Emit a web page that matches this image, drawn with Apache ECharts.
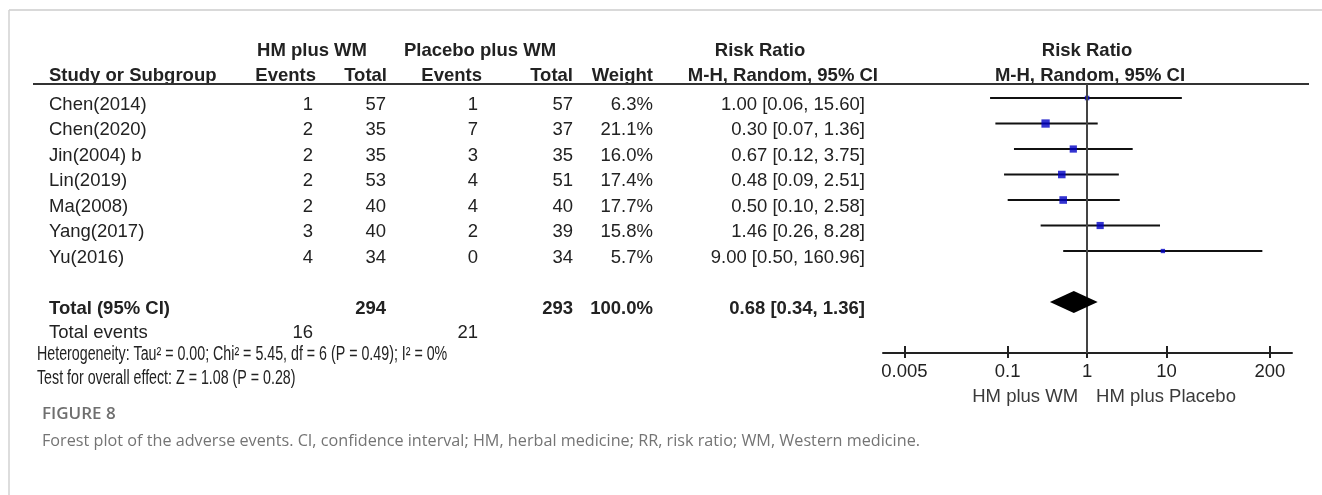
<!DOCTYPE html>
<html>
<head>
<meta charset="utf-8">
<script src="https://cdn.jsdelivr.net/npm/echarts@6/dist/echarts.min.js"></script>
<style>
  html, body { margin: 0; padding: 0; background: #fff; }
  #chart { width: 1322px; height: 495px; }
</style>
</head>
<body>
<div id="chart"></div>
<script>
// ---- Study data (adverse events, RR with 95% CI, random effects) ----
const studies   = ['Chen(2014)', 'Chen(2020)', 'Jin(2004) b', 'Lin(2019)', 'Ma(2008)', 'Yang(2017)', 'Yu(2016)'];
const hmEvents  = [1, 2, 2, 2, 2, 3, 4];
const hmTotal   = [57, 35, 35, 53, 40, 40, 34];
const plEvents  = [1, 7, 3, 4, 4, 2, 0];
const plTotal   = [57, 37, 35, 51, 40, 39, 34];
const weights   = [6.3, 21.1, 16.0, 17.4, 17.7, 15.8, 5.7];
const rr        = [1.00, 0.30, 0.67, 0.48, 0.50, 1.46, 9.00];
const ciLow     = [0.06, 0.07, 0.12, 0.09, 0.10, 0.26, 0.50];
const ciHigh    = [15.60, 1.36, 3.75, 2.51, 2.58, 8.28, 160.96];

// ---- Pooled estimate and totals ----
const pooledRR   = 0.68;
const pooledLow  = 0.34;
const pooledHigh = 1.36;
const totalHmN   = 294;
const totalPlN   = 293;
const totalHmEv  = 16;
const totalPlEv  = 21;
const totalWeight = '100.0%';

// ---- Axis ticks ----
const tickValues = [0.005, 0.1, 1, 10, 200];
const tickLabels = ['0.005', '0.1', '1', '10', '200'];

const heterogeneityText = 'Heterogeneity: Tau\u00b2 = 0.00; Chi\u00b2 = 5.45, df = 6 (P = 0.49); I\u00b2 = 0%';
const overallText = 'Test for overall effect: Z = 1.08 (P = 0.28)';
const favoursLeft = 'HM plus WM';
const favoursRight = 'HM plus Placebo';
const figureLabel = 'FIGURE 8';
const captionText = 'Forest plot of the adverse events. CI, confidence interval; HM, herbal medicine; RR, risk ratio; WM, Western medicine.';

const L = Math.log10;
const fmt2 = v => v.toFixed(2);
const FONT = '"Liberation Sans", Arial, Helvetica, sans-serif';
const CAPFONT = '"Open Sans", "Noto Sans", sans-serif';
const INK = '#222';
const FS = 18.5;
const totalRow = studies.length + 1;   // pooled row index (one blank row between)

const chart = echarts.init(document.getElementById('chart'), null, { renderer: 'canvas' });

const logTicks = tickValues.map(L);
const xMin = -2.57, xMax = 2.58;

chart.setOption({
  animation: false,
  grid: { left: 883, right: 30, top: 84, bottom: 142 },
  xAxis: [
    {
      type: 'value', min: xMin, max: xMax, position: 'bottom',
      axisLine: { onZero: false, lineStyle: { color: INK, width: 2 } },
      axisTick: { customValues: logTicks, length: 5, lineStyle: { color: INK, width: 2 } },
      axisLabel: {
        customValues: logTicks, margin: 9, fontSize: FS, color: INK, fontFamily: FONT,
        formatter: v => {
          const i = logTicks.findIndex(t => Math.abs(t - v) < 1e-6);
          return i >= 0 ? tickLabels[i] : '';
        }
      },
      splitLine: { show: false }
    },
    {
      type: 'value', min: xMin, max: xMax, position: 'bottom',
      axisLine: { show: false, onZero: false },
      axisTick: { inside: true, customValues: logTicks, length: 7, lineStyle: { color: INK, width: 2 } },
      axisLabel: { show: false },
      splitLine: { show: false }
    }
  ],
  yAxis: { type: 'value', inverse: true, min: -0.55, max: 10, show: false },
  series: [
    {
      // confidence interval whiskers
      type: 'custom',
      data: studies.map((s, i) => [L(ciLow[i]), L(ciHigh[i]), i]),
      encode: { x: [0, 1], y: 2 },
      renderItem: (params, api) => {
        const a = api.coord([api.value(0), api.value(2)]);
        const b = api.coord([api.value(1), api.value(2)]);
        return { type: 'line', shape: { x1: a[0], y1: a[1], x2: b[0], y2: b[1] },
                 style: { stroke: '#111', lineWidth: 2 } };
      },
      z: 2
    },
    {
      // study point estimates, square size by weight
      type: 'scatter',
      symbol: 'rect',
      data: studies.map((s, i) => [L(rr[i]), i, weights[i]]),
      symbolSize: v => 1.81 * Math.sqrt(v[2]),
      itemStyle: { color: '#0000c4' },
      z: 4,
      markLine: {
        silent: true, symbol: 'none', label: { show: false },
        lineStyle: { color: '#444', width: 2, type: 'solid' },
        data: [{ xAxis: 0 }]
      }
    },
    {
      // pooled estimate diamond
      type: 'custom',
      data: [[L(pooledLow), L(pooledRR), L(pooledHigh), totalRow]],
      encode: { x: [0, 1, 2], y: 3 },
      renderItem: (params, api) => {
        const row = api.value(3);
        const lo = api.coord([api.value(0), row]);
        const mid = api.coord([api.value(1), row]);
        const hi = api.coord([api.value(2), row]);
        const h = 11;
        return { type: 'polygon',
                 shape: { points: [[lo[0], mid[1]], [mid[0], mid[1] - h], [hi[0], mid[1]], [mid[0], mid[1] + h]] },
                 style: { fill: '#000' } };
      },
      z: 5
    }
  ]
});

// ---- Table text, placed on the same row scale as the plot ----
const rowY = i => chart.convertToPixel({ yAxisIndex: 0 }, i) + 6.5;
const g = [];
function txt(text, x, y, align, opt) {
  opt = opt || {};
  g.push({
    type: 'text', x: x, y: y, scaleX: opt.scaleX || 1, silent: true,
    style: {
      text: String(text), align: align, verticalAlign: 'middle',
      fontFamily: opt.family || FONT, fontSize: opt.size || FS,
      fontWeight: opt.bold ? 'bold' : (opt.weight || 'normal'),
      fill: opt.color || INK
    }
  });
}
function hline(x1, y1, x2, y2, stroke, w) {
  g.push({ type: 'line', silent: true, shape: { x1, y1, x2, y2 }, style: { stroke, lineWidth: w } });
}

// frame
hline(9, 10, 1322, 10, '#d9d9d9', 2);
hline(9, 10, 9, 495, '#d2d2d2', 1.5);

// headers
const H1 = 51, H2 = 76;
txt('HM plus WM', 312, H1, 'center', { bold: true });
txt('Placebo plus WM', 480, H1, 'center', { bold: true });
txt('Risk Ratio', 760, H1, 'center', { bold: true });
txt('Risk Ratio', 1087, H1, 'center', { bold: true });
txt('Study or Subgroup', 49, H2, 'left', { bold: true });
txt('Events', 316, H2, 'right', { bold: true });
txt('Total', 387, H2, 'right', { bold: true });
txt('Events', 482, H2, 'right', { bold: true });
txt('Total', 573, H2, 'right', { bold: true });
txt('Weight', 653, H2, 'right', { bold: true });
txt('M-H, Random, 95% CI', 878, H2, 'right', { bold: true });
txt('M-H, Random, 95% CI', 1090, H2, 'center', { bold: true });
hline(33, 84, 1309, 84, '#333', 2);

// study rows
studies.forEach((s, i) => {
  const y = rowY(i);
  txt(s, 49, y, 'left');
  txt(hmEvents[i], 313, y, 'right');
  txt(hmTotal[i], 386, y, 'right');
  txt(plEvents[i], 478, y, 'right');
  txt(plTotal[i], 573, y, 'right');
  txt(weights[i].toFixed(1) + '%', 653, y, 'right');
  txt(fmt2(rr[i]) + ' [' + fmt2(ciLow[i]) + ', ' + fmt2(ciHigh[i]) + ']', 865, y, 'right');
});

// totals
const yT = rowY(totalRow);
txt('Total (95% CI)', 49, yT, 'left', { bold: true });
txt(totalHmN, 386, yT, 'right', { bold: true });
txt(totalPlN, 573, yT, 'right', { bold: true });
txt(totalWeight, 653, yT, 'right', { bold: true });
txt(fmt2(pooledRR) + ' [' + fmt2(pooledLow) + ', ' + fmt2(pooledHigh) + ']', 865, yT, 'right', { bold: true });
const yE = rowY(totalRow + 1) - 1;
txt('Total events', 49, yE, 'left');
txt(totalHmEv, 313, yE, 'right');
txt(totalPlEv, 478, yE, 'right');
txt(heterogeneityText, 37, 355, 'left', { scaleX: 0.73, size: 19.5 });
txt(overallText, 37, 379, 'left', { scaleX: 0.73, size: 19.5 });

// favours labels under the axis
const x1 = chart.convertToPixel({ xAxisIndex: 0 }, 0);
txt(favoursLeft, x1 - 9, 397, 'right', { color: '#3a3a3a' });
txt(favoursRight, x1 + 9, 397, 'left', { color: '#3a3a3a' });

// figure caption, fitted to its line width
const ctx = document.createElement('canvas').getContext('2d');
ctx.font = '16.5px ' + CAPFONT;
const capW = ctx.measureText(captionText).width;
txt(figureLabel, 42, 414, 'left', { family: CAPFONT, size: 17, weight: 600, color: '#6f6f6f' });
txt(captionText, 42, 441, 'left', { family: CAPFONT, size: 16.5, color: '#747474', scaleX: Math.min(1.1, 878 / capW) });

chart.setOption({ graphic: g });
</script>
</body>
</html>
